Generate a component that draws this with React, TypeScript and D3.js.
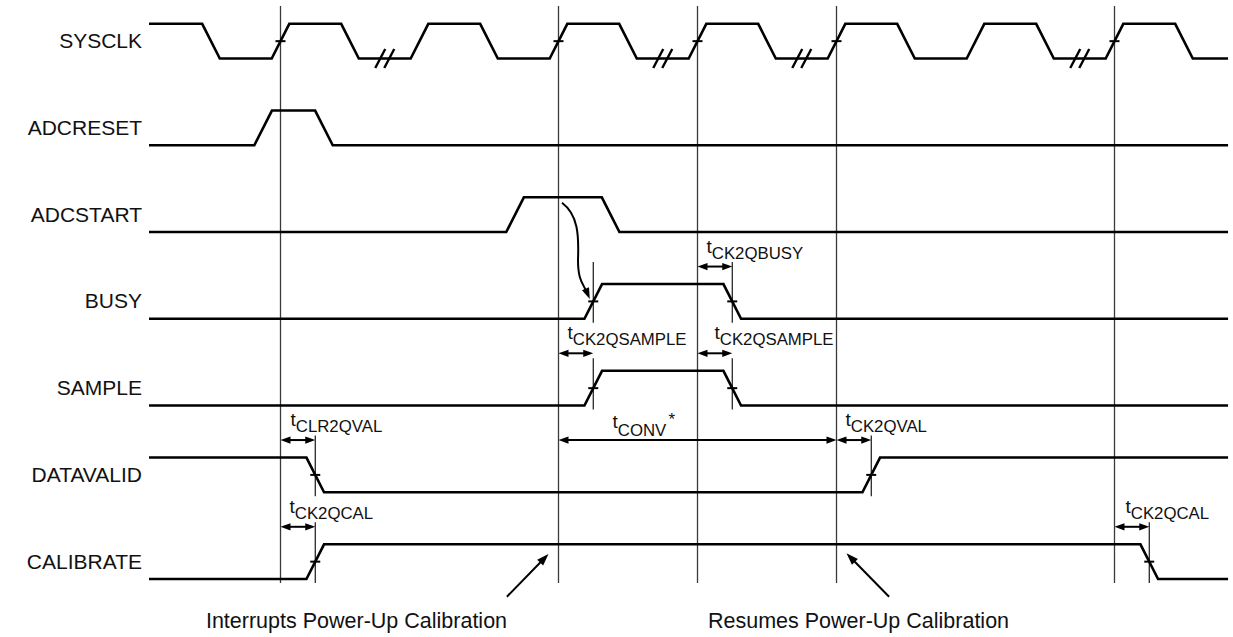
import React from "react";
import * as d3 from "d3";

// ---------- data (time in SYSCLK cycles, 0 = first marked rising edge) ----------
const SIGNAL_NAMES = ["SYSCLK", "ADCRESET", "ADCSTART", "BUSY", "SAMPLE", "DATAVALID", "CALIBRATE"];
const START_LEVELS = [1, 0, 0, 0, 0, 1, 0];
const SYSCLK_EDGES = [-0.5, 0, 0.5, 1, 1.5, 2, 2.5, 3, 3.5, 4, 4.5, 5, 5.5, 6, 6.5];
const ADCRESET_EDGES = [-0.125, 0.3125];
const ADCSTART_EDGES = [1.6875, 2.375];
const BUSY_EDGES = [2.25, 3.25];
const SAMPLE_EDGES = [2.25, 3.25];
const DATAVALID_EDGES = [0.25, 4.25];
const CALIBRATE_EDGES = [0.25, 6.25];
const EDGE_LISTS = [SYSCLK_EDGES, ADCRESET_EDGES, ADCSTART_EDGES, BUSY_EDGES, SAMPLE_EDGES, DATAVALID_EDGES, CALIBRATE_EDGES];
const TRACE_SPAN = [-0.946, 6.817];
const REFERENCE_CYCLES = [0, 2, 3, 4, 6];
const BREAK_CYCLES = [0.75, 2.75, 3.75, 5.75];
const TICKED_SIGNALS = ["BUSY", "SAMPLE", "DATAVALID", "CALIBRATE"];

const TIMING_NAMES = ["CK2QBUSY", "CK2QSAMPLE", "CK2QSAMPLE", "CLR2QVAL", "CONV", "CK2QVAL", "CK2QCAL", "CK2QCAL"];
const TIMING_FROM = [3, 2, 3, 0, 2, 4, 0, 6];
const TIMING_TO = [3.25, 2.25, 3.25, 0.25, 4, 4.25, 0.25, 6.25];
const TIMING_ROWS = ["BUSY", "SAMPLE", "SAMPLE", "DATAVALID", "DATAVALID", "DATAVALID", "CALIBRATE", "CALIBRATE"];
const TIMING_STAR = [false, false, false, false, true, false, false, false];

const NOTES = ["Interrupts Power-Up Calibration", "Resumes Power-Up Calibration"];
const NOTE_CYCLES = [2, 4];

// ---------- layout ----------
const W = 1233, H = 637;
const AMP = 34.7;
const EDGE_HALF_PX = 8.8;
const LABEL_DX = [9, 9, 17, 10, 54, 9, 9, 11];
const FONT = "'Liberation Sans', Arial, Helvetica, sans-serif";

const x = d3.scaleLinear().domain([0, 6]).range([280.5, 1114.5]);
const rowLow = d3.scaleLinear().domain([0, 6]).range([58.5, 579]);
const rowIndex = (name: string) => SIGNAL_NAMES.indexOf(name);
const lowY = (name: string) => rowLow(rowIndex(name));
const highY = (name: string) => lowY(name) - AMP;
const midY = (name: string) => lowY(name) - AMP / 2;

function arrowHead(tx: number, ty: number, ang: number, len = 10, hw = 3.6) {
  const c = Math.cos(ang), s = Math.sin(ang);
  const bx = tx - c * len, by = ty - s * len;
  return `${tx},${ty} ${bx - s * hw},${by + c * hw} ${bx + s * hw},${by - c * hw}`;
}

export default function App() {
  const h = EDGE_HALF_PX / (x(1) - x(0));
  const line = d3.line<[number, number]>().x((d) => d[0]).y((d) => d[1]);

  const traces = SIGNAL_NAMES.map((name, i) => {
    let lvl = START_LEVELS[i];
    const lo = rowLow(i);
    const yl = (l: number) => lo - l * AMP;
    const pts: [number, number][] = [[x(TRACE_SPAN[0]), yl(lvl)]];
    EDGE_LISTS[i].forEach((e) => {
      pts.push([x(e - h), yl(lvl)]);
      lvl = 1 - lvl;
      pts.push([x(e + h), yl(lvl)]);
    });
    pts.push([x(TRACE_SPAN[1]), yl(lvl)]);
    return line(pts) as string;
  });

  const topRef = 6, botRef = lowY("CALIBRATE") + 4;

  const markers: { x: number; y1: number; y2: number }[] = [];
  TICKED_SIGNALS.forEach((name) => {
    const edges = EDGE_LISTS[rowIndex(name)];
    edges.forEach((e) => {
      const top = name === "SAMPLE" ? highY(name) - 12.5 : highY(name) - 22;
      markers.push({ x: x(e), y1: top, y2: lowY(name) + 4 });
    });
  });

  const ticks: { x: number; y: number }[] = [];
  REFERENCE_CYCLES.forEach((c) => ticks.push({ x: x(c), y: midY("SYSCLK") }));
  TICKED_SIGNALS.forEach((name) => EDGE_LISTS[rowIndex(name)].forEach((e) => ticks.push({ x: x(e), y: midY(name) })));

  const sx = x(2) + 3.5, sy = highY("ADCSTART") + 5.5;
  const ex = x(2.25) - 5.5, ey = midY("BUSY") - 7;
  const curve = `M${sx},${sy} C${sx + 16},${sy + 12} ${sx + 17},${sy + 32} ${sx + 16},${sy + 57} C${sx + 16},${sy + 78} ${ex - 5},${ey - 12} ${ex},${ey}`;
  const curveAng = Math.atan2(12, 5);

  const noteTips = [
    { tx: x(NOTE_CYCLES[0]) - 10, ty: lowY("CALIBRATE") - 25, dx: -41.6, dy: 42.7, cx: x(NOTE_CYCLES[0]) - 202 },
    { tx: x(NOTE_CYCLES[1]) + 10, ty: lowY("CALIBRATE") - 25.7, dx: 42.6, dy: 43.4, cx: x(NOTE_CYCLES[1]) + 22 },
  ];

  return (
    <svg width={W} height={H} style={{ position: "absolute", left: 0, top: 0, background: "#fff" }} fontFamily={FONT}>
      <rect x={0} y={0} width={W} height={H} fill="#fff" />
      {REFERENCE_CYCLES.map((c, i) => (
        <line key={"r" + i} x1={x(c)} x2={x(c)} y1={topRef} y2={botRef} stroke="#3a3a3a" strokeWidth={1.3} />
      ))}
      {markers.map((m, i) => (
        <line key={"m" + i} x1={m.x} x2={m.x} y1={m.y1} y2={m.y2} stroke="#000" strokeWidth={1.1} />
      ))}
      {traces.map((d, i) => (
        <path key={"t" + i} d={d} fill="none" stroke="#000" strokeWidth={2.6} strokeLinejoin="miter" />
      ))}
      {BREAK_CYCLES.map((c, i) => {
        const bx = x(c), by = lowY("SYSCLK");
        return (
          <g key={"b" + i} stroke="#000" strokeWidth={2.4}>
            {[-4.5, 4.5].map((o, j) => (
              <line key={j} x1={bx + o - 5} y1={by + 9.5} x2={bx + o + 5} y2={by - 9.5} />
            ))}
          </g>
        );
      })}
      {ticks.map((t, i) => (
        <line key={"k" + i} x1={t.x - 5} x2={t.x + 5} y1={t.y} y2={t.y} stroke="#000" strokeWidth={2} />
      ))}
      {SIGNAL_NAMES.map((name, i) => (
        <text key={"l" + i} x={142} y={midY(name) + 7} textAnchor="end" fontSize={21} fill="#111">
          {name}
        </text>
      ))}
      {TIMING_NAMES.map((nm, i) => {
        const ay = highY(TIMING_ROWS[i]) - 17.5;
        const x1 = x(TIMING_FROM[i]), x2 = x(TIMING_TO[i]);
        const lx = x1 + LABEL_DX[i];
        const conv = TIMING_STAR[i];
        return (
          <g key={"d" + i}>
            <line x1={x1 + 4} x2={x2 - 4} y1={ay} y2={ay} stroke="#000" strokeWidth={2} />
            <polygon points={arrowHead(x1, ay, Math.PI)} fill="#000" />
            <polygon points={arrowHead(x2, ay, 0)} fill="#000" />
            <text x={lx} y={ay - (conv ? 12.5 : 14)} fontSize={19} fill="#111">
              t
              <tspan dy={conv ? 8.5 : 6} fontSize={16.8}>{nm}</tspan>
            </text>
            {conv && (
              <text x={lx + 56} y={ay - 15} fontSize={17} fill="#111">*</text>
            )}
          </g>
        );
      })}
      <path d={curve} fill="none" stroke="#000" strokeWidth={2} />
      <polygon points={arrowHead(ex + 2, ey + 4.5, curveAng, 11, 3.8)} fill="#000" />
      {noteTips.map((n, i) => {
        const ang = Math.atan2(-n.dy, -n.dx);
        return (
          <g key={"n" + i}>
            <line x1={n.tx + n.dx} y1={n.ty + n.dy} x2={n.tx - Math.cos(ang) * 8} y2={n.ty - Math.sin(ang) * 8} stroke="#000" strokeWidth={2} />
            <polygon points={arrowHead(n.tx, n.ty, ang, 12, 4.2)} fill="#000" />
            <text x={n.cx} y={628} textAnchor="middle" fontSize={21.5} fill="#111">
              {NOTES[i]}
            </text>
          </g>
        );
      })}
    </svg>
  );
}
